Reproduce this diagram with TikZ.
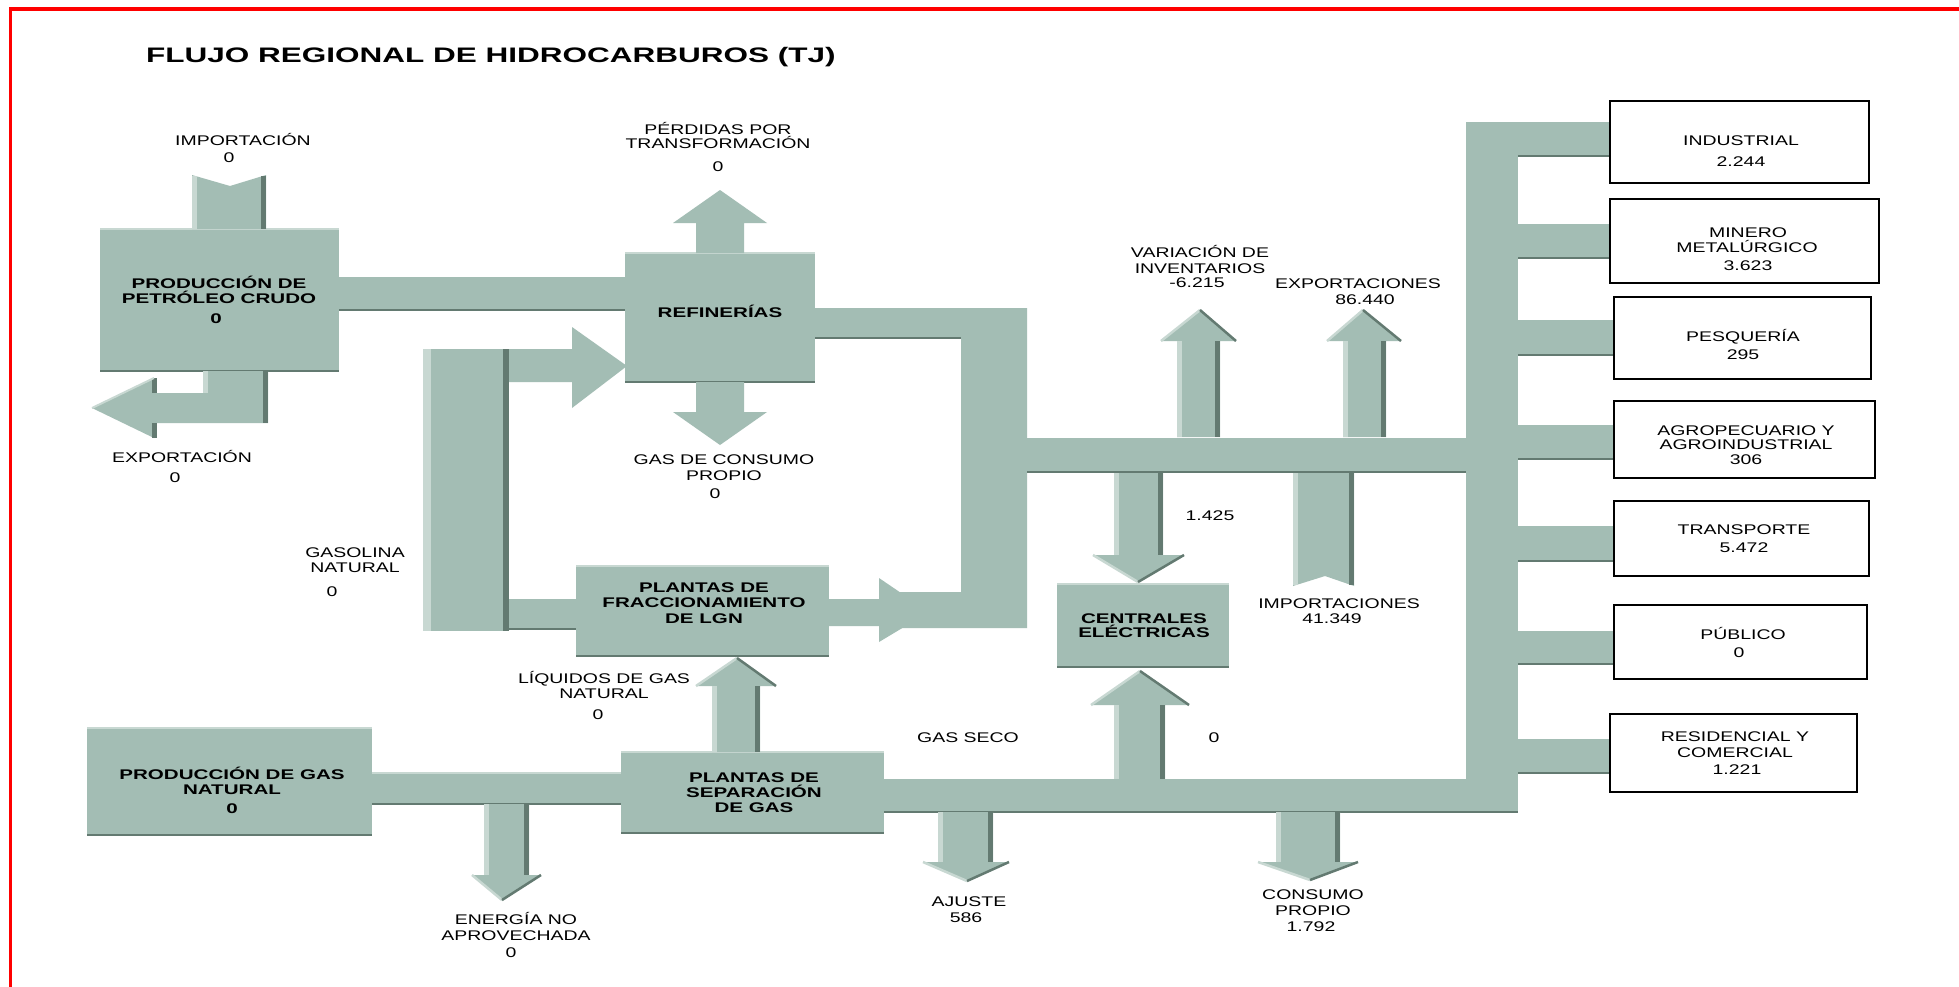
\documentclass[tikz,border=0pt]{standalone}
\usepackage{fontspec}
\setmainfont{Liberation Sans}
\newfontfamily\rgfont[FakeStretch=1.39]{Liberation Sans}
\newfontfamily\bdfont[FakeStretch=1.47]{Liberation Sans}
\newfontfamily\ttlfont[FakeStretch=1.50]{Liberation Sans}
\definecolor{pipe}{RGB}{163,189,180}
\definecolor{pdark}{RGB}{99,122,113}
\definecolor{plight}{RGB}{200,216,210}
% box from corners: name, x1,y1,x2,y2
\newcommand\PBox[5]{%
  \node[pbox, minimum width={(#4-#2)*1pt}, minimum height={(#5-#3)*1pt}] (#1) at ({(#2+#4)/2},{(#3+#5)/2}) {};
  \draw[ledge] (#1.north west) -- (#1.north east);
  \draw[dedge] (#1.south west) -- (#1.south east);}
\newcommand\SBox[5]{%
  \node[sbox, minimum width={(#4-#2)*1pt}, minimum height={(#5-#3)*1pt}] (#1) at ({(#2+#4)/2},{(#3+#5)/2}) {};}
% vertical flow arrow: shaft xl, xr, shaft start y, head base y, head xl, head xr, tip x, tip y
\newcommand\Flow[8]{%
  \fill[pipe] (#1,#3) -- (#1,#4) -- (#5,#4) -- (#7,#8) -- (#6,#4) -- (#2,#4) -- (#2,#3) -- cycle;
  \fill[plight] (#1,#3) rectangle ({#1+5},#4);
  \fill[pdark] ({#2-5},#3) rectangle (#2,#4);
  \draw[plight,line width=2.5pt] (#5,#4) -- (#7,#8);
  \draw[pdark,line width=2.5pt] (#7,#8) -- (#6,#4);}
\newcommand\FlowP[8]{%
  \fill[pipe] (#1,#3) -- (#1,#4) -- (#5,#4) -- (#7,#8) -- (#6,#4) -- (#2,#4) -- (#2,#3) -- cycle;}
% text line: name, x, y (visual centre), text
\newcommand\Tx[4]{\node[lbl] (#1) at (#2,{#3+5}) {#4};}
\newcommand\Tb[4]{\node[blbl] (#1) at (#2,{#3+5}) {#4};}
\begin{document}
\begin{tikzpicture}[x=1pt,y=-1pt,
  lbl/.style={anchor=base, inner sep=0pt, font=\rgfont\fontsize{14}{16}\selectfont},
  blbl/.style={anchor=base, inner sep=0pt, font=\bdfont\bfseries\fontsize{14}{16}\selectfont},
  pbox/.style={fill=pipe, draw=none, inner sep=0pt, outer sep=0pt},
  sbox/.style={fill=white, draw=black, line width=2.5pt, inner sep=0pt},
  dedge/.style={draw=pdark, line width=2.5pt},
  ledge/.style={draw=plight, line width=2.5pt}]
\useasboundingbox (0,0) rectangle (1959,986);
\fill[white] (0,0) rectangle (1959,986);
% red frame
\draw[red, line width=3.8pt] (10.5,995) -- (10.5,8.7) -- (1970,8.7);
% title
\node[anchor=base west, inner sep=0pt, font=\ttlfont\bfseries\fontsize{21}{24}\selectfont] (title) at (146,62.5) {FLUJO REGIONAL DE HIDROCARBUROS (TJ)};

% ---------- pipes ----------
% crude -> refineries
\fill[pipe] (339,277) rectangle (625,310);
\draw[dedge] (339,310) -- (625,310);
% refineries output pipe
\fill[pipe] (815,308) -- (1027,308) -- (1027,628) -- (900,628) -- (900,592) -- (961,592) -- (961,338) -- (815,338) -- cycle;
\draw[dedge] (815,338) -- (961,338);
% main horizontal pipe
\fill[pipe] (1027,438) rectangle (1466,472);
\draw[dedge] (1027,472) -- (1466,472);
% trunk
\fill[pipe] (1466,122) rectangle (1518,812);
% branches
\fill[pipe] (1466,122) rectangle (1610,156); \draw[dedge] (1518,156) -- (1610,156);
\fill[pipe] (1518,224) rectangle (1610,258); \draw[dedge] (1518,258) -- (1610,258);
\fill[pipe] (1518,320) rectangle (1614,355); \draw[dedge] (1518,355) -- (1614,355);
\fill[pipe] (1518,425) rectangle (1614,459); \draw[dedge] (1518,459) -- (1614,459);
\fill[pipe] (1518,526) rectangle (1614,561); \draw[dedge] (1518,561) -- (1614,561);
\fill[pipe] (1518,631) rectangle (1614,664); \draw[dedge] (1518,664) -- (1614,664);
\fill[pipe] (1518,739) rectangle (1610,773); \draw[dedge] (1518,773) -- (1610,773);
% bottom dry-gas pipe
\fill[pipe] (883,779) rectangle (1518,812);
\draw[dedge] (883,812) -- (1518,812);
% gas production -> separation
\fill[pipe] (368,773) rectangle (621,804);
\draw[ledge] (368,773) -- (621,773);
\draw[dedge] (368,804) -- (621,804);
% natural gasoline vertical pipe
\fill[pipe] (423,349) rectangle (509,631);
\fill[plight] (423,349) rectangle (431,631);
\fill[pdark] (503,349) rectangle (509,631);
% arrow into refineries
\fill[pipe] (509,349) -- (572,349) -- (572,327) -- (627,366) -- (572,408) -- (572,382) -- (509,382) -- cycle;
% link to fractionation
\fill[pipe] (509,599) rectangle (577,629);
\draw[dedge] (509,629) -- (577,629);
% fractionation output arrow
\fill[pipe] (829,599) -- (879,599) -- (879,578) -- (929,612) -- (879,642) -- (879,626) -- (829,626) -- cycle;

% ---------- boxes ----------
\PBox{crude}{100}{229}{339}{371}
\PBox{refin}{625}{253}{815}{382}
\PBox{frac}{576}{566}{829}{656}
\PBox{sep}{621}{752}{884}{833}
\PBox{gprod}{87}{728}{372}{835}
\PBox{cent}{1057}{584}{1229}{667}

\SBox{ind}{1610}{101}{1869}{183}
\SBox{mine}{1610}{199}{1879}{283}
\SBox{pes}{1614}{297}{1871}{379}
\SBox{agr}{1614}{401}{1875}{478}
\SBox{tra}{1614}{501}{1869}{576}
\SBox{pub}{1614}{605}{1867}{679}
\SBox{res}{1610}{714}{1857}{792}

% ---------- arrows ----------
% import into crude (notched tail)
\fill[pipe] (192,229) -- (192,175) -- (230,186) -- (266,175) -- (266,229) -- cycle;
\fill[plight] (192,176) rectangle (197,229);
\fill[pdark] (261,176) rectangle (266,229);
% export from crude
\fill[pipe] (268,371) -- (268,423) -- (154,423) -- (154,438) -- (92,408) -- (154,378) -- (154,393) -- (203,393) -- (203,371) -- cycle;
\fill[plight] (203,371) rectangle (208,393);
\fill[pdark] (263,371) rectangle (268,423);
\fill[pdark] (152,378) rectangle (157,393);
\fill[pdark] (152,423) rectangle (157,438);
\draw[plight,line width=2pt] (154,378) -- (92,408);
% refinery losses / own use
\FlowP{696}{744}{253}{223}{673}{767}{720}{190}
\FlowP{696}{744}{382}{412}{673}{767}{720}{445}
% NGL up to fractionation
\Flow{712}{760}{752}{686}{696}{776}{737}{658}
% unused energy
\Flow{484}{529}{804}{875}{472}{541}{502}{900}
% to power plants
\Flow{1114}{1163}{473}{555}{1093}{1184}{1138}{582}
% inventory variation and exports
\Flow{1177}{1220}{437}{341}{1161}{1236}{1200}{310}
\Flow{1343}{1386}{437}{341}{1327}{1401}{1363}{310}
% dry gas to power plants
\Flow{1114}{1165}{779}{705}{1091}{1189}{1140}{671}
% adjustment and own consumption
\Flow{938}{993}{812}{862}{923}{1009}{967}{881}
\Flow{1276}{1340}{812}{862}{1258}{1358}{1310}{880}
% imports (notched)
\fill[pipe] (1293,473) -- (1354,473) -- (1354,586) -- (1325,576) -- (1293,586) -- cycle;
\fill[plight] (1293,473) rectangle (1298,585);
\fill[pdark] (1349,473) rectangle (1354,585);

% ---------- texts ----------
\Tx{t1}{243}{140}{IMPORTACIÓN}
\Tx{t2}{229}{157}{0}
\Tx{t3}{182}{457}{EXPORTACIÓN}
\Tx{t4}{175}{477}{0}
\Tb{t5}{219}{283}{PRODUCCIÓN DE}
\Tb{t6}{219}{298}{PETRÓLEO CRUDO}
\Tb{t7}{216}{318}{0}
\Tx{t8}{718}{129}{PÉRDIDAS POR}
\Tx{t9}{718}{143}{TRANSFORMACIÓN}
\Tx{t10}{718}{166}{0}
\Tb{t11}{720}{312}{REFINERÍAS}
\Tx{t12}{724}{459}{GAS DE CONSUMO}
\Tx{t13}{724}{475}{PROPIO}
\Tx{t14}{715}{493}{0}
\Tx{t15}{355}{552}{GASOLINA}
\Tx{t16}{355}{567}{NATURAL}
\Tx{t17}{332}{591}{0}
\Tb{t18}{704}{587}{PLANTAS DE}
\Tb{t19}{704}{602}{FRACCIONAMIENTO}
\Tb{t20}{704}{618}{DE LGN}
\Tx{t21}{604}{678}{LÍQUIDOS DE GAS}
\Tx{t22}{604}{693}{NATURAL}
\Tx{t23}{598}{714}{0}
\Tb{t24}{232}{774}{PRODUCCIÓN DE GAS}
\Tb{t25}{232}{789}{NATURAL}
\Tb{t26}{232}{808}{0}
\Tb{t27}{754}{777}{PLANTAS DE}
\Tb{t28}{754}{792}{SEPARACIÓN}
\Tb{t29}{754}{807}{DE GAS}
\Tx{t30}{516}{919}{ENERGÍA NO}
\Tx{t31}{516}{935}{APROVECHADA}
\Tx{t32}{511}{952}{0}
\Tx{t33}{968}{737}{GAS SECO}
\Tx{t34}{1214}{737}{0}
\Tx{t35}{969}{901}{AJUSTE}
\Tx{t36}{966}{917}{586}
\Tx{t37}{1313}{894}{CONSUMO}
\Tx{t38}{1313}{910}{PROPIO}
\Tx{t39}{1311}{926}{1.792}
\Tx{t40}{1210}{515}{1.425}
\Tx{t41}{1339}{603}{IMPORTACIONES}
\Tx{t42}{1332}{618}{41.349}
\Tb{t43}{1144}{618}{CENTRALES}
\Tb{t44}{1144}{632}{ELÉCTRICAS}
\Tx{t45}{1200}{252}{VARIACIÓN DE}
\Tx{t46}{1200}{268}{INVENTARIOS}
\Tx{t47}{1197}{282}{-6.215}
\Tx{t48}{1358}{283}{EXPORTACIONES}
\Tx{t49}{1365}{299}{86.440}
% sectors
\Tx{s1}{1741}{140}{INDUSTRIAL}
\Tx{s2}{1741}{161}{2.244}
\Tx{s3}{1748}{232}{MINERO}
\Tx{s4}{1747}{247}{METALÚRGICO}
\Tx{s5}{1748}{265}{3.623}
\Tx{s6}{1743}{336}{PESQUERÍA}
\Tx{s7}{1743}{354}{295}
\Tx{s8}{1746}{430}{AGROPECUARIO Y}
\Tx{s9}{1746}{444}{AGROINDUSTRIAL}
\Tx{s10}{1746}{459}{306}
\Tx{s11}{1744}{529}{TRANSPORTE}
\Tx{s12}{1744}{547}{5.472}
\Tx{s13}{1743}{634}{PÚBLICO}
\Tx{s14}{1739}{652}{0}
\Tx{s15}{1735}{736}{RESIDENCIAL Y}
\Tx{s16}{1735}{752}{COMERCIAL}
\Tx{s17}{1737}{769}{1.221}
\end{tikzpicture}
\end{document}
